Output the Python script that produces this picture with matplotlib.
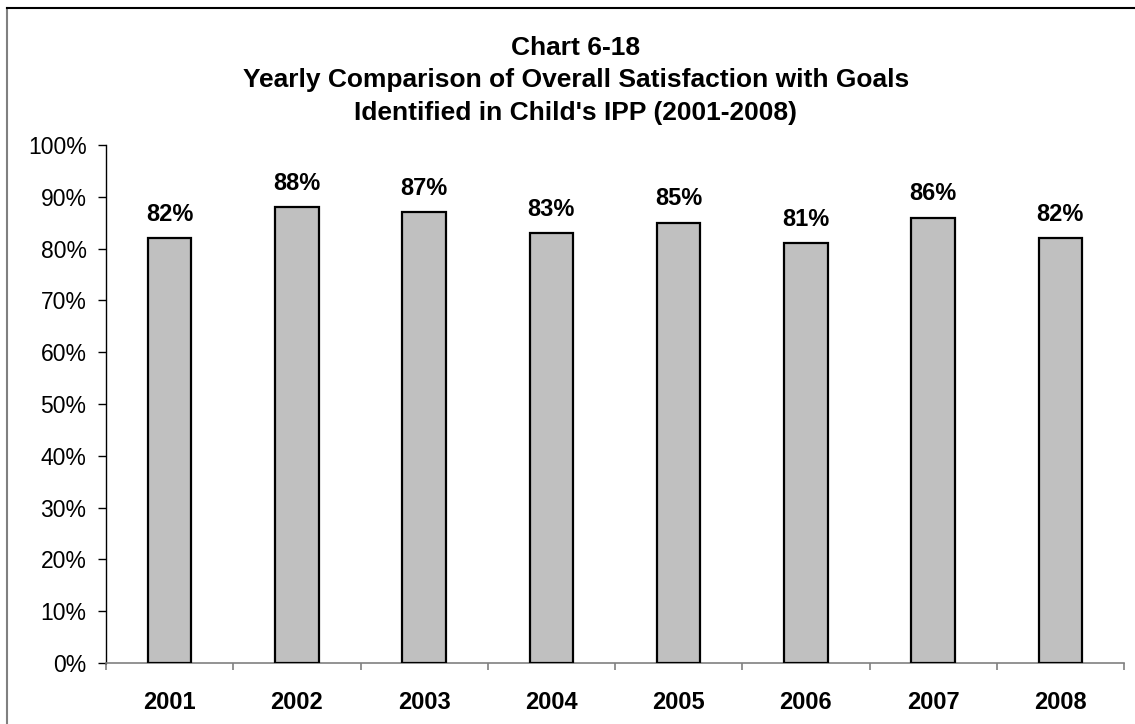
import matplotlib
matplotlib.use("Agg")
import matplotlib.pyplot as plt
from matplotlib.lines import Line2D
import numpy as np

years = ["2001", "2002", "2003", "2004", "2005", "2006", "2007", "2008"]
values = [82, 88, 87, 83, 85, 81, 86, 82]
title_lines = ["Chart 6-18",
               "Yearly Comparison of Overall Satisfaction with Goals",
               "Identified in Child's IPP (2001-2008)"]

plt.rcParams['font.family'] = ['Liberation Sans', 'DejaVu Sans']

W, H = 1135, 724
fig = plt.figure(figsize=(W / 100, H / 100), dpi=100)
ax = fig.add_axes([106 / W, 1 - 663 / H, (1124 - 106) / W, (663 - 145) / H])

x = np.arange(len(years))
ax.bar(x, values, width=0.34, color="#C0C0C0", edgecolor="black", linewidth=1.6, zorder=3)
for xi, v in zip(x, values):
    ax.annotate(f"{v}%", (xi, v), xytext=(0, 9), textcoords="offset points",
                ha="center", va="bottom", fontsize=17, fontweight="bold")

ax.set_xlim(-0.5, len(years) - 0.5)
ax.set_ylim(0, 100)
ax.set_yticks(np.arange(0, 101, 10))
ax.set_yticklabels([f"{t}%" for t in range(0, 101, 10)], fontsize=16.5)
ax.set_xticks(x)
ax.set_xticklabels(years, fontsize=17, fontweight="bold")
ax.set_xticks(np.arange(-0.5, len(years), 1), minor=True)
ax.tick_params(axis="x", which="major", length=0, pad=20)
ax.tick_params(axis="x", which="minor", length=5, width=1.2, color="#808080", direction="out")
ax.tick_params(axis="y", length=6, width=1, color="black", direction="out", pad=8)

for s in ["top", "right"]:
    ax.spines[s].set_visible(False)
ax.spines["left"].set_color("black")
ax.spines["left"].set_linewidth(1)
ax.spines["bottom"].set_color("#808080")
ax.spines["bottom"].set_linewidth(1.2)

baselines = [55, 87.5, 120]
for t, yy in zip(title_lines, baselines):
    fig.text(576 / W, 1 - yy / H, t, ha="center", va="baseline",
             fontsize=19, fontweight="bold")

# outer border (top and left)
fig.add_artist(Line2D([7 / W, 7 / W], [0, 1 - 8 / H], color="#808080", linewidth=1.5))
fig.add_artist(Line2D([7 / W, 1], [1 - 8 / H, 1 - 8 / H], color="black", linewidth=1.5))

fig.savefig("out.png", dpi=100)
